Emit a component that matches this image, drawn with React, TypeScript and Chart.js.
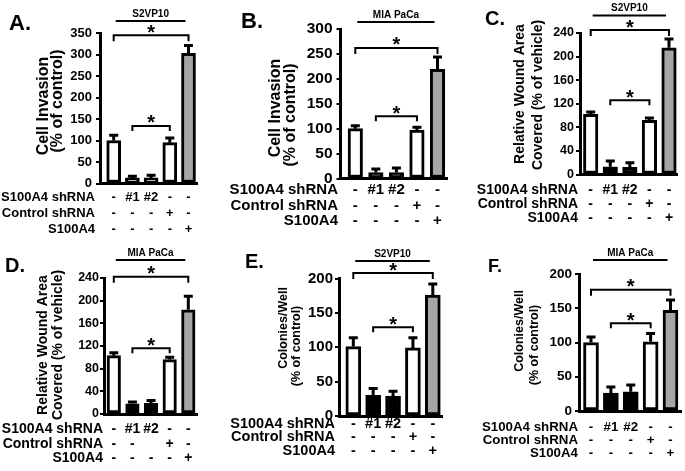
import React, { useEffect, useRef } from "react";
import { Chart, registerables } from "chart.js";
Chart.register(...registerables);

const FONT = "'Liberation Sans', Arial, Helvetica, sans-serif";

// ---------- data ----------
const PANEL_LETTERS = ["A.", "B.", "C.", "D.", "E.", "F."];
const CELL_LINES = ["S2VP10", "MIA PaCa", "S2VP10", "MIA PaCa", "S2VP10", "MIA PaCa"];
const Y_TITLES = [
  ["Cell Invasion", "(% of control)"],
  ["Cell Invasion", "(% of control)"],
  ["Relative Wound Area", "Covered (% of vehicle)"],
  ["Relative Wound Area", "Covered (% of vehicle)"],
  ["Colonies/Well", "(% of control)"],
  ["Colonies/Well", "(% of control)"],
];
const Y_MAX = [350, 300, 240, 240, 200, 200];
const Y_STEP = [50, 50, 40, 40, 50, 50];

const BAR_X = [1, 2, 3, 4, 5];

const INVASION_S2VP10 = [100, 13, 13, 95, 303];
const INVASION_S2VP10_ERR = [12, 4, 6, 11, 18];
const INVASION_MIAPACA = [100, 12, 12, 97, 219];
const INVASION_MIAPACA_ERR = [6, 7, 9, 6, 25];
const WOUND_S2VP10 = [102, 13, 12, 92, 215];
const WOUND_S2VP10_ERR = [4, 10, 8, 4, 15];
const WOUND_MIAPACA = [103, 18, 19, 96, 184];
const WOUND_MIAPACA_ERR = [5, 3, 5, 4, 24];
const COLONY_S2VP10 = [101, 30, 29, 99, 176];
const COLONY_S2VP10_ERR = [13, 10, 7, 15, 16];
const COLONY_MIAPACA = [100, 26, 28, 101, 147];
const COLONY_MIAPACA_ERR = [8, 9, 10, 12, 15];

const ROW_LABELS = ["S100A4 shRNA", "Control shRNA", "S100A4"];
const ROW_MARKS = [
  ["-", "#1", "#2", "-", "-"],
  ["-", "-", "-", "+", "-"],
  ["-", "-", "-", "-", "+"],
];
const ROW_MARKS_D = [
  ["-", "#1", "#2", "-", "-"],
  ["-", "-", "", "+", "-"],
  ["-", "-", "-", "-", "+"],
];

// significance brackets: [from bar, to bar, value level]
const BRACKETS_A = [[0, 4, 345], [1, 3, 134]];
const BRACKETS_B = [[0, 4, 262], [1, 3, 125]];
const BRACKETS_C = [[0, 4, 245], [1, 3, 126]];
const BRACKETS_D = [[0, 4, 242], [1, 3, 116]];
const BRACKETS_E = [[0, 4, 208], [1, 3, 129]];
const BRACKETS_F = [[0, 4, 177], [1, 3, 128]];

const VALUES = [INVASION_S2VP10, INVASION_MIAPACA, WOUND_S2VP10, WOUND_MIAPACA, COLONY_S2VP10, COLONY_MIAPACA];
const ERRORS = [INVASION_S2VP10_ERR, INVASION_MIAPACA_ERR, WOUND_S2VP10_ERR, WOUND_MIAPACA_ERR, COLONY_S2VP10_ERR, COLONY_MIAPACA_ERR];
const BRACKETS = [BRACKETS_A, BRACKETS_B, BRACKETS_C, BRACKETS_D, BRACKETS_E, BRACKETS_F];
const MARKS = [ROW_MARKS, ROW_MARKS, ROW_MARKS, ROW_MARKS_D, ROW_MARKS, ROW_MARKS];

// ---------- styles / layout ----------
const GRAY = "#a5a5a5";
const FILL_A = ["#ffffff", "#ffffff", "#ffffff", "#ffffff", GRAY];
const FILL_OTHER = ["#ffffff", "#000000", "#000000", "#ffffff", GRAY];
const FILLS = [FILL_A, FILL_OTHER, FILL_OTHER, FILL_OTHER, FILL_OTHER, FILL_OTHER];

type Layout = {
  L: number; c1: number; c5: number; R: number; T: number; B0: number;
  tickFont: number; tickPad: number;
  yt: number[][]; ytFont: number;
  rows: number[]; rowFont: number; labelRight: number;
  lx: number; lb: number; lf: number;
  lineDy: number; barW: number;
};

const LAYOUTS: Layout[] = [
  { L: 100, c1: 113.7, c5: 188.5, R: 197, T: 33, B0: 183.5, tickFont: 13, tickPad: 4,
    yt: [[44, 106], [58, 101]], ytFont: 16, rows: [197, 213, 229], rowFont: 13, labelRight: 95,
    lx: 9, lb: 30, lf: 22, lineDy: -12, barW: 14 },
  { L: 340.5, c1: 355.3, c5: 437.5, R: 447, T: 29, B0: 178.5, tickFont: 15.5, tickPad: 4,
    yt: [[276, 108], [291, 115]], ytFont: 16, rows: [190, 206, 221], rowFont: 15, labelRight: 338,
    lx: 241, lb: 28, lf: 22, lineDy: -7, barW: 14.5 },
  { L: 580, c1: 590.7, c5: 669, R: 677, T: 33, B0: 174.5, tickFont: 12.5, tickPad: 2,
    yt: [[520, 94], [538, 95]], ytFont: 14, rows: [190, 204, 218], rowFont: 14, labelRight: 578,
    lx: 485, lb: 25, lf: 20, lineDy: -17.5, barW: 14.5 },
  { L: 104, c1: 113.8, c5: 188.3, R: 197, T: 278, B0: 414, tickFont: 12.5, tickPad: 1,
    yt: [[43, 345], [58, 345]], ytFont: 14, rows: [429, 444, 458], rowFont: 14, labelRight: 103,
    lx: 5, lb: 272, lf: 20, lineDy: -18, barW: 13.5 },
  { L: 339, c1: 353.3, c5: 432.8, R: 442, T: 278.5, B0: 416, tickFont: 15, tickPad: 2,
    yt: [[284, 328], [297, 346]], ytFont: 12.5, rows: [424, 437, 451], rowFont: 14.5, labelRight: 335,
    lx: 245, lb: 268, lf: 20, lineDy: -17.5, barW: 15 },
  { L: 579, c1: 591, c5: 670.5, R: 681, T: 274, B0: 411, tickFont: 13.5, tickPad: 3,
    yt: [[520, 331], [535, 345]], ytFont: 12.5, rows: [427, 440, 453], rowFont: 13.3, labelRight: 578,
    lx: 488, lb: 272, lf: 18, lineDy: -14, barW: 15 },
];

const W = 685;
const H = 471;

const annotPlugin = {
  id: "annot",
  afterDraw(chart: any, _args: any, o: any) {
    const p: number = o.panel;
    const lay = LAYOUTS[p];
    const ctx: CanvasRenderingContext2D = chart.ctx;
    const xs = chart.scales.x;
    const ys = chart.scales.y;
    const cx = (i: number) => xs.getPixelForValue(BAR_X[i]);
    const values = VALUES[p];
    const errs = ERRORS[p];
    ctx.save();
    ctx.strokeStyle = "#000";
    ctx.fillStyle = "#000";

    // error bars
    ctx.lineWidth = 3;
    values.forEach((v, i) => {
      const x = cx(i);
      const y0 = ys.getPixelForValue(v);
      const y1 = ys.getPixelForValue(v + errs[i]);
      ctx.beginPath();
      ctx.moveTo(x, y0);
      ctx.lineTo(x, y1);
      ctx.moveTo(x - 4.5, y1);
      ctx.lineTo(x + 4.5, y1);
      ctx.stroke();
    });

    // brackets + stars
    ctx.lineWidth = 2;
    BRACKETS[p].forEach(([a, b, lvl], k) => {
      const x1 = cx(a);
      const x2 = cx(b);
      const y = ys.getPixelForValue(lvl);
      const t = k === 0 ? 6 : 5;
      ctx.beginPath();
      ctx.moveTo(x1, y + t);
      ctx.lineTo(x1, y);
      ctx.lineTo(x2, y);
      ctx.lineTo(x2, y + t);
      ctx.stroke();
      ctx.font = `bold 20px ${FONT}`;
      ctx.textAlign = "center";
      ctx.textBaseline = "alphabetic";
      ctx.fillText("*", (x1 + x2) / 2, y - 8 + 11.5);
    });

    // cell line title + line
    const ly = chart.chartArea.top + lay.lineDy;
    const lx1 = cx(0) + 2;
    const lx2 = cx(4) - 3;
    ctx.lineWidth = 2;
    ctx.beginPath();
    ctx.moveTo(lx1, ly);
    ctx.lineTo(lx2, ly);
    ctx.stroke();
    ctx.font = `bold 10px ${FONT}`;
    ctx.textAlign = "center";
    ctx.textBaseline = "middle";
    ctx.fillText(CELL_LINES[p], (lx1 + lx2) / 2, ly - 7);

    // panel letter
    ctx.font = `bold ${lay.lf}px ${FONT}`;
    ctx.textAlign = "left";
    ctx.textBaseline = "alphabetic";
    ctx.fillText(PANEL_LETTERS[p], lay.lx, lay.lb);

    // y title
    ctx.font = `bold ${lay.ytFont}px ${FONT}`;
    ctx.textAlign = "center";
    ctx.textBaseline = "middle";
    Y_TITLES[p].forEach((txt, k) => {
      ctx.save();
      ctx.translate(lay.yt[k][0], lay.yt[k][1]);
      ctx.rotate(-Math.PI / 2);
      ctx.fillText(txt, 0, 0);
      ctx.restore();
    });

    // condition table
    ctx.font = `bold ${lay.rowFont}px ${FONT}`;
    ctx.textBaseline = "middle";
    ROW_LABELS.forEach((lab, r) => {
      ctx.textAlign = "right";
      ctx.fillText(lab, lay.labelRight, lay.rows[r]);
      ctx.textAlign = "center";
      MARKS[p][r].forEach((m, i) => {
        if (m) ctx.fillText(m, cx(i), lay.rows[r]);
      });
    });
    ctx.restore();
  },
};

function Panel({ idx }: { idx: number }) {
  const ref = useRef<HTMLCanvasElement>(null);
  useEffect(() => {
    const lay = LAYOUTS[idx];
    const s = (lay.c5 - lay.c1) / 4;
    const xMin = 1 - (lay.c1 - lay.L) / s;
    const xMax = 5 + (lay.R - lay.c5) / s;
    const values = VALUES[idx];
    const chart = new Chart(ref.current as HTMLCanvasElement, {
      type: "bar",
      data: {
        datasets: [
          {
            data: BAR_X.map((x, i) => ({ x, y: values[i] })),
            backgroundColor: FILLS[idx],
            borderColor: "#000",
            borderWidth: 3,
            borderSkipped: false,
            barThickness: lay.barW,
          } as any,
        ],
      },
      options: {
        responsive: false,
        animation: false,
        layout: { padding: { left: lay.L - 40, right: W - lay.R, top: lay.T, bottom: H - lay.B0 } },
        plugins: {
          legend: { display: false },
          tooltip: { enabled: false },
          annot: { panel: idx },
        } as any,
        scales: {
          x: {
            type: "linear",
            min: xMin,
            max: xMax,
            offset: false,
            grid: { display: false },
            ticks: { display: false },
            border: { display: true, color: "#000", width: 3 },
            afterFit: (sc: any) => { sc.height = 0; },
          },
          y: {
            min: 0,
            max: Y_MAX[idx],
            ticks: {
              stepSize: Y_STEP[idx],
              color: "#000",
              font: { family: FONT, size: lay.tickFont, weight: "bold" },
              padding: lay.tickPad,
            },
            grid: { display: true, drawOnChartArea: false, drawTicks: true, tickLength: 4, color: "#000", lineWidth: 2 },
            border: { display: true, color: "#000", width: 3 },
            afterFit: (sc: any) => { sc.width = 40; },
          },
        } as any,
      },
      plugins: [annotPlugin as any],
    });
    return () => chart.destroy();
  }, [idx]);
  return (
    <canvas
      ref={ref}
      width={W}
      height={H}
      style={{ position: "absolute", left: 0, top: 0, width: W, height: H }}
    />
  );
}

export default function App() {
  return (
    <div style={{ position: "absolute", left: 0, top: 0, width: W, height: H, background: "#fff", overflow: "hidden" }}>
      {[0, 1, 2, 3, 4, 5].map((i) => (
        <Panel key={i} idx={i} />
      ))}
    </div>
  );
}
